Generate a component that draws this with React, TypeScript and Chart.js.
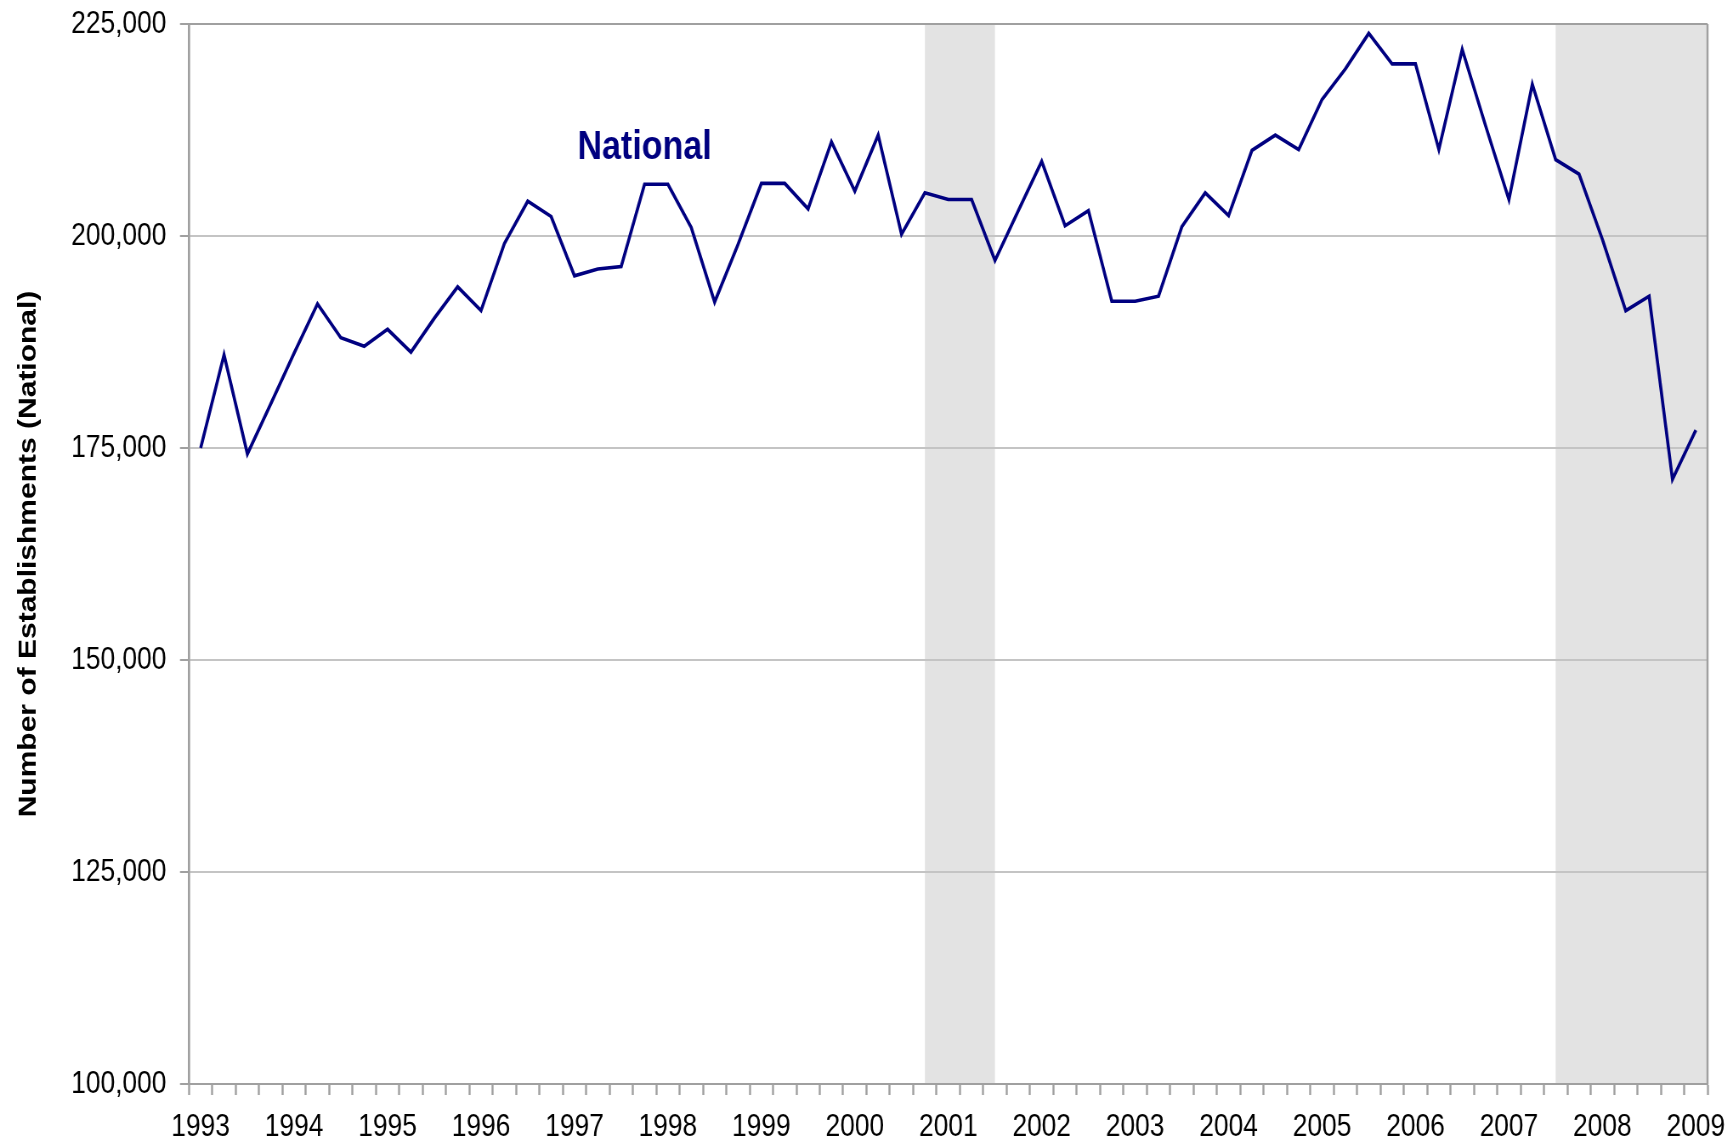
import React, { useEffect, useRef } from 'react';
import { Chart, registerables } from 'chart.js';

Chart.register(...registerables);

// ---- data ----
const years = ['1993', '1994', '1995', '1996', '1997', '1998', '1999', '2000', '2001', '2002', '2003', '2004', '2005', '2006', '2007', '2008', '2009'];
const quarters = ['Q1', 'Q2', 'Q3', 'Q4'];
const categories = years.flatMap((y) => quarters.map((q) => `${y} ${q}`)).slice(0, 65);

const establishments = [
  175000, 186000, 174300, 180200, 186200, 192000, 188000, 187000,
  189000, 186300, 190300, 194000, 191200, 199100, 204100, 202300,
  195300, 196100, 196400, 206100, 206100, 201000, 192200, 199000,
  206200, 206200, 203200, 211100, 205300, 211900, 200200, 205100,
  204300, 204300, 197100, 203000, 208800, 201200, 203000, 192300,
  192300, 192900, 201100, 205100, 202400, 210100, 211900, 210200,
  216100, 219700, 223900, 220300, 220300, 210200, 222000, 213000,
  204300, 217900, 209000, 207300, 199600, 191200, 192900, 171300,
  177100,
];

const yMin = 100000;
const yMax = 225000;
const yStep = 25000;

// recession shading, in category positions
const recessionStart = [31, 58];
const recessionEnd = [34, 64.5];

const seriesName = 'National';
const seriesNameIndex = 19;
const seriesNameValue = 209100;
const yTitle = 'Number of Establishments (National)';

// ---- geometry ----
const W = 1733;
const H = 1143;
const SQUEEZE = 0.85;
const CW = Math.round(W / SQUEEZE);
const FONT = "'Liberation Sans', Arial, Helvetica, sans-serif";

const decorPlugin = {
  id: 'decor',
  beforeDraw(chart: any) {
    const { ctx, chartArea, scales } = chart;
    const x = scales.x;
    ctx.save();
    ctx.fillStyle = '#e3e3e3';
    recessionStart.forEach((s, k) => {
      const x0 = Math.max(x.getPixelForValue(s), chartArea.left);
      const x1 = Math.min(x.getPixelForValue(recessionEnd[k]), chartArea.right);
      ctx.fillRect(x0, chartArea.top, x1 - x0, chartArea.bottom - chartArea.top);
    });
    ctx.restore();
  },
  beforeDatasetsDraw(chart: any) {
    const { ctx, chartArea } = chart;
    ctx.save();
    ctx.strokeStyle = '#a0a0a0';
    ctx.lineWidth = 2;
    ctx.beginPath();
    ctx.moveTo(chartArea.left, chartArea.top);
    ctx.lineTo(chartArea.right, chartArea.top);
    ctx.moveTo(chartArea.left, chartArea.bottom);
    ctx.lineTo(chartArea.right, chartArea.bottom);
    ctx.stroke();
    ctx.lineWidth = 2.4;
    ctx.beginPath();
    ctx.moveTo(chartArea.left, chartArea.top);
    ctx.lineTo(chartArea.left, chartArea.bottom);
    ctx.moveTo(chartArea.right, chartArea.top);
    ctx.lineTo(chartArea.right, chartArea.bottom);
    ctx.stroke();
    ctx.restore();
  },
  afterDatasetsDraw(chart: any) {
    const { ctx, scales } = chart;
    ctx.save();
    ctx.font = `bold 40px ${FONT}`;
    ctx.fillStyle = '#000080';
    ctx.textAlign = 'center';
    ctx.textBaseline = 'alphabetic';
    ctx.fillText(seriesName, scales.x.getPixelForValue(seriesNameIndex), scales.y.getPixelForValue(seriesNameValue));
    ctx.restore();
  },
};

export default function App() {
  const ref = useRef<HTMLCanvasElement>(null);

  useEffect(() => {
    const canvas = ref.current;
    if (!canvas) return;
    const chart = new Chart(canvas, {
      type: 'line',
      data: {
        labels: categories,
        datasets: [
          {
            label: seriesName,
            data: establishments,
            borderColor: '#000080',
            backgroundColor: '#000080',
            borderWidth: 3.6,
            pointRadius: 0,
            tension: 0,
            fill: false,
          },
        ],
      },
      options: {
        animation: false,
        responsive: false,
        maintainAspectRatio: false,
        devicePixelRatio: 1,
        events: [],
        layout: { padding: { left: 0, right: 30, top: 24, bottom: 0 } },
        plugins: {
          legend: { display: false },
          tooltip: { enabled: false },
          title: { display: false },
        },
        scales: {
          x: {
            type: 'category',
            offset: true,
            afterFit: (scale: any) => {
              scale.height = 59;
              scale.paddingLeft = 0;
              scale.paddingRight = 0;
            },
            grid: {
              display: true,
              drawOnChartArea: false,
              drawTicks: true,
              offset: true,
              tickLength: 11,
              tickColor: '#a0a0a0',
              tickWidth: 2.4,
            },
            border: { display: true, color: '#a0a0a0', width: 2 },
            ticks: {
              autoSkip: false,
              maxRotation: 0,
              minRotation: 0,
              padding: 14,
              color: '#000',
              font: { family: FONT, size: 31 },
              callback: (_v: any, index: number) => (index % 4 === 0 ? years[index / 4] : ''),
            },
          },
          y: {
            type: 'linear',
            min: yMin,
            max: yMax,
            afterFit: (scale: any) => {
              scale.width = 189 / SQUEEZE;
              scale.paddingTop = 0;
              scale.paddingBottom = 0;
            },
            grid: {
              color: '#c4c4c4',
              lineWidth: 2,
              drawTicks: true,
              tickLength: 10.6,
              tickColor: '#a0a0a0',
              tickWidth: 2,
            },
            border: { display: true, color: '#a0a0a0', width: 2.4 },
            ticks: {
              stepSize: yStep,
              padding: 16,
              color: '#000',
              font: { family: FONT, size: 31 },
              callback: (v: any) => Number(v).toLocaleString('en-US'),
            },
            title: {
              display: true,
              text: yTitle,
              color: '#000',
              font: { family: FONT, size: 30, weight: 'bold' },
              padding: { top: 16, bottom: 0 },
            },
          },
        },
      },
      plugins: [decorPlugin],
    } as any);
    return () => chart.destroy();
  }, []);

  return (
    <div style={{ position: 'fixed', left: 0, top: 0, width: W, height: H, background: '#fff' }}>
      <canvas
        ref={ref}
        width={CW}
        height={H}
        style={{ width: `${W}px`, height: `${H}px`, display: 'block' }}
      />
    </div>
  );
}
